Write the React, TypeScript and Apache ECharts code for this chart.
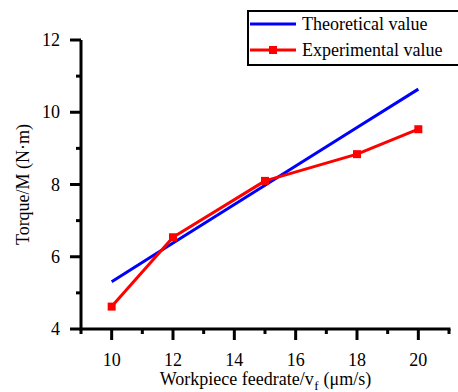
import React, { useEffect, useRef } from "react";
import * as echarts from "echarts";

const feedrates = [10, 12, 15, 18, 20];
const theoretical = [5.31, 6.38, 7.98, 9.58, 10.64];
const experimental = [4.62, 6.54, 8.1, 8.84, 9.53];
const xMajorTicks = [10, 12, 14, 16, 18, 20];
const xMinorTicks = [9, 11, 13, 15, 17, 19, 21];
const yMajorTicks = [4, 6, 8, 10, 12];
const yMinorTicks = [5, 7, 9, 11];
const seriesNames = ["Theoretical value", "Experimental value"];
const xTitleParts = ["Workpiece feedrate/v", "f", " (μm/s)"];
const yTitle = "Torque/M (N·m)";

const FONT = "Liberation Serif";

function measure(text: string, size: number) {
  const c = document.createElement("canvas").getContext("2d")!;
  c.font = `${size}px "${FONT}"`;
  return c.measureText(text).width;
}

export default function App() {
  const ref = useRef<HTMLDivElement>(null);
  useEffect(() => {
    document.body.style.margin = "0";
    const chart = echarts.init(ref.current!, null, { renderer: "svg" });
    const hidden = { show: false };
    chart.setOption({
      animation: false,
      grid: { left: 81, right: 9, top: 40, bottom: 63 },
      xAxis: {
        type: "value",
        min: 9,
        max: 21,
        splitLine: hidden,
        axisLine: hidden,
        axisTick: hidden,
        axisLabel: hidden,
      },
      yAxis: {
        type: "value",
        min: 4,
        max: 12,
        interval: 2,
        splitLine: hidden,
        axisLine: hidden,
        axisTick: hidden,
        axisLabel: hidden,
      },
      series: [
        {
          name: seriesNames[0],
          type: "line",
          data: feedrates.map((x, i) => [x, theoretical[i]]),
          symbol: "none",
          lineStyle: { color: "#0000ff", width: 3 },
          itemStyle: { color: "#0000ff" },
        },
        {
          name: seriesNames[1],
          type: "line",
          data: feedrates.map((x, i) => [x, experimental[i]]),
          symbol: "rect",
          symbolSize: 8,
          lineStyle: { color: "#ff0000", width: 3 },
          itemStyle: { color: "#ff0000" },
        },
      ],
    });

    const px = (v: number) => chart.convertToPixel({ xAxisIndex: 0 }, v) as number;
    const py = (v: number) => chart.convertToPixel({ yAxisIndex: 0 }, v) as number;
    const axX = px(9);
    const axXEnd = px(21);
    const axY = py(4);
    const axYTop = py(12);

    const blk = { stroke: "#000", lineWidth: 3 };
    const ln = (x1: number, y1: number, x2: number, y2: number, style: any = blk) => ({
      type: "line",
      silent: true,
      shape: { x1, y1, x2, y2 },
      style,
    });
    const txt = (text: string, x: number, y: number, size = 18, align = "left", valign = "middle") => ({
      type: "text",
      x,
      y,
      silent: true,
      style: { text, fill: "#000", fontFamily: FONT, fontSize: size, textAlign: align, textVerticalAlign: valign },
    });

    const w1 = measure(xTitleParts[0], 18);
    const w2 = measure(xTitleParts[1], 13);
    const w3 = measure(xTitleParts[2], 18);
    const cx = (axX + axXEnd) / 2;
    const x0 = cx - (w1 + w2 + w3) / 2;
    const cy = (axY + axYTop) / 2;

    const g: any[] = [];
    // axis lines
    g.push(ln(axX, axY, axXEnd + 1.5, axY));
    g.push(ln(axX, axY + 1.5, axX, axYTop));
    // x ticks and labels
    xMajorTicks.forEach((v) => {
      g.push(ln(px(v), axY, px(v), axY + 11));
      g.push(txt(String(v), px(v), axY + 31, 18, "center"));
    });
    xMinorTicks.forEach((v) => g.push(ln(px(v), axY, px(v), axY + 5)));
    // y ticks and labels
    yMajorTicks.forEach((v) => {
      g.push(ln(axX, py(v), axX - 11, py(v)));
      g.push(txt(String(v), axX - 21, py(v), 18, "right"));
    });
    yMinorTicks.forEach((v) => g.push(ln(axX, py(v), axX - 5, py(v))));
    // axis titles
    g.push(txt(xTitleParts[0], x0, 379));
    g.push(txt(xTitleParts[1], x0 + w1 + 0.5, 385, 13));
    g.push(txt(xTitleParts[2], x0 + w1 + w2 + 1, 379));
    g.push({
      type: "text",
      x: 23,
      y: cy,
      rotation: Math.PI / 2,
      silent: true,
      style: { text: yTitle, fill: "#000", fontFamily: FONT, fontSize: 18, textAlign: "center", textVerticalAlign: "middle" },
    });
    // legend
    g.push({
      type: "rect",
      silent: true,
      shape: { x: 248, y: 11, width: 260, height: 54 },
      style: { fill: "#fff", stroke: "#000", lineWidth: 2 },
    });
    g.push(ln(250, 24, 296, 24, { stroke: "#0000ff", lineWidth: 3 }));
    g.push(ln(250, 50, 296, 50, { stroke: "#ff0000", lineWidth: 3 }));
    g.push({ type: "rect", silent: true, shape: { x: 269, y: 46, width: 8, height: 8 }, style: { fill: "#ff0000" } });
    g.push(txt(seriesNames[0], 302, 24));
    g.push(txt(seriesNames[1], 302, 50));

    chart.setOption({ graphic: g });
    return () => chart.dispose();
  }, []);
  return <div ref={ref} style={{ position: "absolute", left: 0, top: 0, width: 458, height: 392 }} />;
}
